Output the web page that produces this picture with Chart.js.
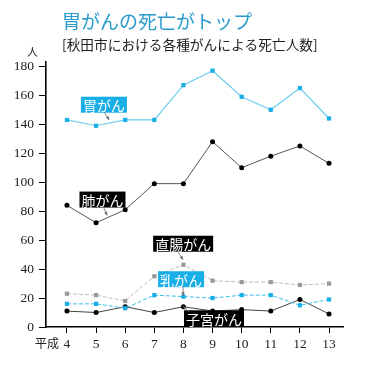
<!DOCTYPE html>
<html>
<head>
<meta charset="utf-8">
<script src="https://cdn.jsdelivr.net/npm/chart.js"></script>
<style>
  html, body { margin: 0; padding: 0; background: #fff; }
  #wrap { width: 369px; height: 366px; position: relative; }
</style>
</head>
<body>
<div id="wrap"><canvas id="myChart"></canvas></div>
<script>
// 平成 years
const years = [4, 5, 6, 7, 8, 9, 10, 11, 12, 13];
const yTicks = [0, 20, 40, 60, 80, 100, 120, 140, 160, 180];

const stomach    = [143, 139, 143, 143, 167, 177, 159, 150, 165, 144];
const lung       = [84, 72, 81, 99, 99, 128, 110, 118, 125, 113];
const colorectal = [23, 22, 18, 35, 43, 32, 31, 31, 29, 30];
const breast     = [16, 16, 13, 22, 21, 20, 22, 22, 15, 19];
const uterus     = [11, 10, 14, 10, 14, 11, 12, 11, 19, 9];

const seriesNames = ['胃がん', '肺がん', '直腸がん', '乳がん', '子宮がん'];

const CYAN = '#18aee6';
const serif = '"Liberation Serif", "DejaVu Serif", serif';
const sans = '"Noto Sans CJK JP", "Noto Sans", sans-serif';

function pts(arr) {
  return arr.map((v, i) => ({ x: years[i], y: v }));
}

// labels: box centre and arrow, in data units
const notes = [
  { text: '胃がん',   bg: CYAN,   cx: 5.27, cy: 153.5, from: [5.27, 148.5], to: [5.45, 143] },
  { text: '肺がん',   bg: '#000', cx: 5.22, cy: 88,    from: [5.24, 83.5],  to: [5.38, 77] },
  { text: '直腸がん', bg: '#000', cx: 7.99, cy: 57.5,  from: [7.82, 51.5],  to: [7.99, 46.5] },
  { text: '乳がん',   bg: CYAN,   cx: 7.92, cy: 33,    from: [7.99, 27.5],  to: [7.99, 21.5] },
  { text: '子宮がん', bg: '#000', cx: 9.05, cy: 6,     from: [8.17, 10.5],  to: [7.99, 14.5] }
];

const decor = {
  id: 'decor',
  afterDraw(chart) {
    const ctx = chart.ctx;
    const xs = chart.scales.x, ys = chart.scales.y;
    ctx.save();
    // title
    ctx.textBaseline = 'middle';
    ctx.textAlign = 'left';
    ctx.fillStyle = '#2a9bcc';
    ctx.font = '19px ' + sans;
    ctx.fillText('胃がんの死亡がトップ', 62, 22);
    ctx.fillStyle = '#222';
    ctx.font = '13.7px ' + sans;
    ctx.fillText('[秋田市における各種がんによる死亡人数]', 62, 45);
    ctx.font = '11px ' + sans;
    ctx.fillText('人', 27, 52);
    ctx.font = '12px ' + sans;
    ctx.fillText('平成', 35, 343);

    // annotation labels
    notes.forEach(n => {
      ctx.font = '14px ' + sans;
      const w = ctx.measureText(n.text).width + 4;
      const h = 16;
      const cx = xs.getPixelForValue(n.cx), cy = ys.getPixelForValue(n.cy);
      ctx.fillStyle = n.bg;
      ctx.fillRect(cx - w / 2, cy - h / 2, w, h);
      ctx.fillStyle = '#fff';
      ctx.textAlign = 'center';
      ctx.fillText(n.text, cx, cy + 1);
      // arrow
      const x1 = xs.getPixelForValue(n.from[0]), y1 = ys.getPixelForValue(n.from[1]);
      const x2 = xs.getPixelForValue(n.to[0]), y2 = ys.getPixelForValue(n.to[1]);
      ctx.strokeStyle = '#666';
      ctx.lineWidth = 0.8;
      ctx.beginPath();
      ctx.moveTo(x1, y1);
      ctx.lineTo(x2, y2);
      ctx.stroke();
      const a = Math.atan2(y2 - y1, x2 - x1);
      ctx.fillStyle = '#666';
      ctx.beginPath();
      ctx.moveTo(x2, y2);
      ctx.lineTo(x2 - 4 * Math.cos(a - 0.4), y2 - 4 * Math.sin(a - 0.4));
      ctx.lineTo(x2 - 4 * Math.cos(a + 0.4), y2 - 4 * Math.sin(a + 0.4));
      ctx.closePath();
      ctx.fill();
    });
    ctx.restore();
  }
};

new Chart(document.getElementById('myChart'), {
  type: 'line',
  data: {
    datasets: [
      {
        label: seriesNames[0], data: pts(stomach),
        borderColor: '#6fcdf0', backgroundColor: CYAN, borderWidth: 1.2,
        pointStyle: 'rect', pointRadius: 3, pointBorderWidth: 0
      },
      {
        label: seriesNames[1], data: pts(lung),
        borderColor: '#555', backgroundColor: '#000', borderWidth: 1,
        pointStyle: 'circle', pointRadius: 2.5, pointBorderWidth: 0
      },
      {
        label: seriesNames[2], data: pts(colorectal),
        borderColor: '#bbb', backgroundColor: '#999', borderWidth: 1, borderDash: [4, 2],
        pointStyle: 'rect', pointRadius: 3, pointBorderWidth: 0
      },
      {
        label: seriesNames[3], data: pts(breast),
        borderColor: '#3cbdec', backgroundColor: CYAN, borderWidth: 1, borderDash: [4, 2],
        pointStyle: 'rect', pointRadius: 3, pointBorderWidth: 0
      },
      {
        label: seriesNames[4], data: pts(uterus),
        borderColor: '#444', backgroundColor: '#000', borderWidth: 1,
        pointStyle: 'circle', pointRadius: 2.5, pointBorderWidth: 0
      }
    ]
  },
  options: {
    responsive: true,
    maintainAspectRatio: false,
    animation: false,
    layout: { padding: { top: 62, right: 26, bottom: 0, left: 0 } },
    plugins: { legend: { display: false }, tooltip: { enabled: false } },
    scales: {
      x: {
        type: 'linear', min: 3.28, max: 13.48,
        afterBuildTicks: s => { s.ticks = years.map(v => ({ value: v })); },
        afterFit: s => { s.height = 39; },
        grid: { drawOnChartArea: false, drawTicks: true, tickLength: 6, color: '#000', tickWidth: 1 },
        border: { display: true, color: '#000', width: 1.6 },
        ticks: { color: '#222', font: { family: serif, size: 13.5 }, padding: 3, maxRotation: 0 }
      },
      y: {
        min: 0, max: 183,
        afterBuildTicks: s => { s.ticks = yTicks.map(v => ({ value: v })); },
        afterFit: s => { s.width = 46; },
        grid: { drawOnChartArea: false, drawTicks: true, tickLength: 7, color: '#000', tickWidth: 1 },
        border: { display: true, color: '#000', width: 1.6 },
        ticks: { color: '#222', font: { family: serif, size: 13.5 }, padding: 5 }
      }
    }
  },
  plugins: [decor]
});
</script>
</body>
</html>
